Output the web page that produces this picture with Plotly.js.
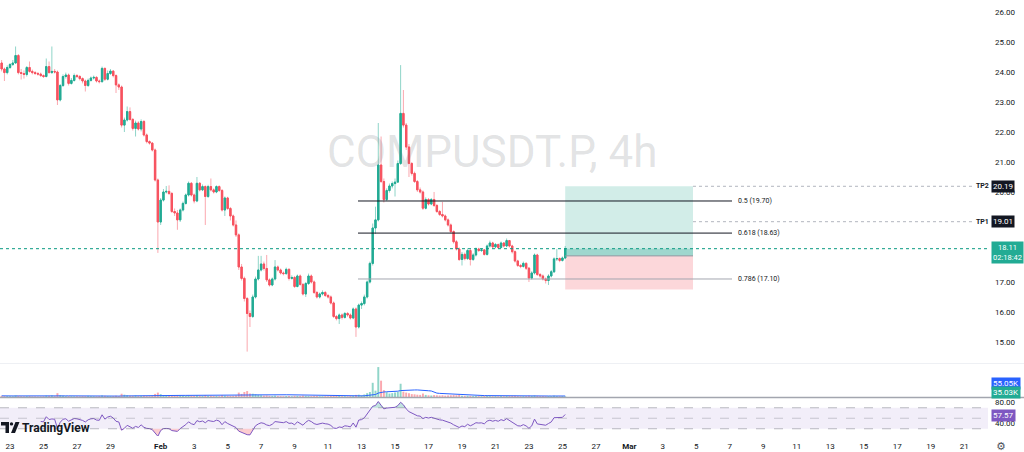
<!DOCTYPE html>
<html><head><meta charset="utf-8">
<script src="https://cdn.plot.ly/plotly-3.0.1.min.js"></script>
<style>html,body{margin:0;padding:0;background:#fff}#chart{width:1024px;height:452px}</style>
</head><body><div id="chart"></div>
<script>
// ---------------- DATA ----------------
const symbolTitle = 'COMPUSDT.P, 4h';
const firstBar = '2025-01-22T12:00:00Z';
const barHours = 4;

const open = [
24.30,24.10,23.98,24.15,24.25,24.30,24.55,23.98,23.95,23.92,
24.15,24.02,23.98,23.95,23.93,23.88,23.85,24.18,23.98,24.02,
24.00,23.07,23.55,23.85,23.90,23.62,23.72,23.88,23.85,23.78,
23.70,23.55,23.72,23.80,23.82,23.70,23.68,24.12,23.76,23.95,
24.03,23.88,23.57,23.50,22.23,22.40,22.68,22.42,22.12,22.30,
22.10,22.35,21.90,21.68,21.63,21.40,20.40,19.00,19.73,20.00,
20.02,19.95,19.35,19.30,19.07,19.40,19.62,19.90,20.29,19.90,
19.70,20.29,20.07,20.18,19.85,20.18,20.07,20.00,20.18,20.05,
19.40,19.80,19.45,19.20,18.90,18.57,17.50,17.12,16.45,15.95,
15.85,16.50,17.10,17.40,17.60,17.45,17.07,16.90,17.10,17.50,
17.40,17.30,17.28,17.42,17.12,17.15,16.85,17.20,16.92,16.60,
16.95,17.20,17.00,16.65,16.50,16.60,16.65,16.55,16.50,16.30,
15.85,15.78,15.90,15.82,15.95,15.90,15.80,16.10,15.50,16.23,
16.28,16.50,17.00,17.62,18.80,19.07,20.90,20.35,19.75,20.05,
20.20,20.28,20.33,20.95,22.62,22.23,21.50,20.95,20.62,20.35,
20.07,20.00,19.46,19.75,19.60,19.75,19.55,19.35,19.25,19.20,
19.07,18.90,18.68,18.34,18.10,17.75,17.92,17.78,18.05,17.75,
17.90,18.10,18.05,18.07,17.92,18.20,18.30,18.17,18.25,18.15,
18.30,18.20,18.38,18.20,18.01,17.70,17.55,17.52,17.62,17.46,
17.13,17.30,17.90,17.25,17.20,17.10,17.05,17.20,17.34,17.77,
17.78,17.72,17.80];

const high = [
24.40,24.15,24.22,24.30,24.40,24.85,24.60,24.10,24.05,24.20,
24.35,24.08,24.03,24.00,23.98,23.92,24.45,24.35,24.85,24.10,
24.05,23.60,23.92,23.98,23.95,23.80,23.95,23.93,23.90,23.82,
23.75,23.78,23.85,23.88,23.86,23.75,24.18,24.15,24.05,24.10,
24.06,23.92,23.62,23.55,22.48,22.85,22.82,22.46,22.38,22.36,
22.42,22.40,21.95,21.72,21.66,21.45,20.45,19.80,20.10,20.20,
20.22,20.00,19.45,19.40,19.45,19.68,19.95,20.35,20.33,19.95,
20.50,20.33,20.25,20.22,20.24,20.45,20.12,20.22,20.22,20.10,
19.85,19.84,19.50,19.25,19.05,18.62,17.60,17.18,16.50,16.05,
16.58,17.18,17.87,17.87,17.68,17.90,17.12,17.15,17.73,17.55,
17.45,17.35,17.48,17.46,17.22,17.20,17.25,17.25,16.96,17.00,
17.28,17.25,17.05,16.70,16.65,16.72,16.70,16.60,16.55,16.35,
15.90,15.95,15.95,16.00,16.00,15.95,16.15,16.15,16.28,16.35,
16.58,17.05,17.68,18.95,19.51,22.30,21.85,20.45,20.12,20.28,
20.35,20.45,21.05,24.23,23.40,22.30,21.60,21.00,20.68,20.40,
20.15,20.05,19.82,19.80,19.80,20.00,19.60,19.40,19.67,19.25,
19.12,18.95,18.72,18.40,18.15,18.00,17.98,18.12,18.10,17.96,
18.15,18.14,18.12,18.10,18.25,18.38,18.34,18.30,18.28,18.35,
18.33,18.45,18.40,18.24,18.05,17.74,17.60,17.68,17.66,17.50,
17.36,17.95,17.94,17.30,17.25,17.15,17.26,17.40,17.82,18.10,
17.82,17.85,18.20];

const low = [
24.02,23.70,23.92,24.10,24.20,24.28,23.92,23.75,23.78,23.85,
23.98,23.92,23.90,23.88,23.84,23.80,23.82,23.95,23.94,23.95,
22.90,23.02,23.50,23.78,23.55,23.58,23.68,23.80,23.72,23.62,
23.35,23.50,23.68,23.75,23.65,23.62,23.64,23.70,23.72,23.90,
23.82,23.30,23.40,22.15,22.00,22.35,22.38,22.05,21.85,22.05,
22.02,21.85,21.62,21.58,21.35,20.35,17.97,18.90,19.68,19.95,
19.90,19.30,19.20,18.74,19.00,19.35,19.58,19.85,19.85,19.62,
19.66,20.02,20.03,18.90,19.80,20.02,19.95,19.96,20.00,19.35,
19.20,19.40,19.05,18.85,18.50,17.40,17.05,16.35,14.68,15.50,
15.80,16.45,17.05,17.35,17.38,17.00,16.85,16.86,17.05,17.35,
17.25,17.22,17.24,17.05,17.08,16.80,16.82,16.88,16.55,16.50,
16.90,16.95,16.60,16.45,16.45,16.55,16.50,16.45,16.25,15.80,
15.72,15.60,15.75,15.78,15.84,15.75,15.76,15.17,15.45,16.10,
16.22,16.45,16.95,17.55,18.60,19.02,20.30,19.65,19.70,19.98,
20.12,19.85,20.30,20.90,22.15,21.40,20.50,20.55,20.30,20.00,
19.95,19.40,19.42,19.55,19.56,19.50,19.30,19.20,19.15,19.02,
18.85,18.62,18.28,18.05,17.70,17.55,17.72,17.74,17.55,17.70,
17.85,18.00,18.00,17.88,17.88,18.15,18.12,18.12,18.10,18.12,
18.15,18.16,18.15,17.95,17.65,17.50,17.46,17.48,17.40,17.00,
17.08,17.25,17.20,17.14,17.05,16.95,16.90,17.15,17.30,17.70,
17.66,17.68,17.76];

const close = [
24.10,23.98,24.15,24.25,24.30,24.55,23.98,23.95,23.92,24.15,
24.02,23.98,23.95,23.93,23.88,23.85,24.18,23.98,24.02,24.00,
23.07,23.55,23.85,23.90,23.62,23.72,23.88,23.85,23.78,23.70,
23.55,23.72,23.80,23.82,23.70,23.68,24.12,23.76,23.95,24.03,
23.88,23.57,23.50,22.23,22.40,22.68,22.42,22.12,22.30,22.10,
22.35,21.90,21.68,21.63,21.40,20.40,19.00,19.73,20.00,20.02,
19.95,19.35,19.30,19.07,19.40,19.62,19.90,20.29,19.90,19.70,
20.29,20.07,20.18,19.85,20.18,20.07,20.00,20.18,20.05,19.40,
19.80,19.45,19.20,18.90,18.57,17.50,17.12,16.45,15.95,15.85,
16.50,17.10,17.40,17.60,17.45,17.07,16.90,17.10,17.50,17.40,
17.30,17.28,17.42,17.12,17.15,16.85,17.20,16.92,16.60,16.95,
17.20,17.00,16.65,16.50,16.60,16.65,16.55,16.50,16.30,15.85,
15.78,15.90,15.82,15.95,15.90,15.80,16.10,15.50,16.23,16.28,
16.50,17.00,17.62,18.80,19.07,20.90,20.35,19.75,20.05,20.20,
20.28,20.33,20.95,22.62,22.23,21.50,20.95,20.62,20.35,20.07,
20.00,19.46,19.75,19.60,19.75,19.55,19.35,19.25,19.20,19.07,
18.90,18.68,18.34,18.10,17.75,17.92,17.78,18.05,17.75,17.90,
18.10,18.05,18.07,17.92,18.20,18.30,18.17,18.25,18.15,18.30,
18.20,18.38,18.20,18.01,17.70,17.55,17.52,17.62,17.46,17.13,
17.30,17.90,17.25,17.20,17.10,17.05,17.20,17.34,17.77,17.78,
17.72,17.80,18.11];

const volumeK = [
60,45,50,40,35,90,70,40,35,45,
50,30,30,25,30,40,70,60,80,45,
200,90,60,45,50,40,35,40,35,45,
40,60,45,40,35,50,80,60,50,40,
45,60,50,170,120,90,70,60,80,55,
60,70,50,45,60,160,230,150,100,70,
60,80,60,90,75,60,65,70,60,55,
80,60,50,90,55,60,50,50,45,90,
70,60,55,60,80,230,160,260,310,180,
170,140,110,90,70,80,60,55,70,50,
45,40,50,55,40,60,55,50,70,60,
50,45,60,50,40,35,40,35,55,90,
60,70,45,40,35,50,60,110,120,90,
130,200,260,740,330,1560,850,360,250,180,
200,230,260,690,280,230,200,150,140,120,
110,180,110,90,80,100,90,80,90,70,
80,90,100,90,110,70,60,65,60,50,
55,45,40,50,55,45,40,45,40,50,
40,55,50,60,70,50,40,45,50,70,
55,80,60,45,50,40,50,45,70,45,
40,45,35];

const tickDates = ['2025-01-23','2025-01-25','2025-01-27','2025-01-29','2025-02-01','2025-02-03','2025-02-05',
  '2025-02-07','2025-02-09','2025-02-11','2025-02-13','2025-02-15','2025-02-17','2025-02-19','2025-02-21',
  '2025-02-23','2025-02-25','2025-02-27','2025-03-01','2025-03-03','2025-03-05','2025-03-07','2025-03-09',
  '2025-03-11','2025-03-13','2025-03-15','2025-03-17','2025-03-19','2025-03-21'];
const tickLabels = ['23','25','27','29','<b>Feb</b>','3','5','7','9','11','13','15','17','19','21',
  '23','25','27','<b>Mar</b>','3','5','7','9','11','13','15','17','19','21'];
const priceTicks = [15,16,17,20,21,22,23,24,25,26];

const fibPrices = [19.70, 18.63, 17.10];
const fibLabels = ['0.5 (19.70)', '0.618 (18.63)', '0.786 (17.10)'];
const tpPrices = [20.19, 19.01];
const tpNames = ['TP2', 'TP1'];
const entryPrice = 17.87, stopPrice = 16.75, lastPrice = 18.11;
const countdown = '02:18:42';
const volMaLabel = '55.05K', volLastLabel = '35.03K', rsiLabel = '57.57';

// ---------------- DERIVED ----------------
const t0 = Date.parse(firstBar);
const fmt = ms => new Date(ms).toISOString().slice(0,16).replace('T',' ');
const times = close.map((_, i) => fmt(t0 + i * barHours * 3600e3));
const up = close.map((c, i) => c >= open[i]);
const bodyHi = close.map((c, i) => Math.max(c, open[i]));
const bodyLo = close.map((c, i) => Math.min(c, open[i]));

// RSI 14 (Wilder)
const rsi = close.map(() => null);
let ag = 0, al = 0;
for (let i = 1; i < close.length; i++) {
  const d = close[i] - close[i-1], g = Math.max(d,0), l = Math.max(-d,0);
  if (i <= 14) { ag += g/14; al += l/14; if (i === 14) rsi[i] = 100 - 100/(1 + ag/(al||1e-9)); }
  else { ag = (ag*13 + g)/14; al = (al*13 + l)/14; rsi[i] = 100 - 100/(1 + ag/(al||1e-9)); }
}
// Volume MA 20
const volMa = volumeK.map((_, i) => { const s = volumeK.slice(Math.max(0, i-19), i+1); return s.reduce((a,b)=>a+b,0)/s.length; });

// ---------------- GEOMETRY HELPERS ----------------
const PW = 988, PH = 436;
const px = v => v / PW, py = v => (PH - v) / PH;
const day0 = Date.parse('2025-01-23T00:00:00Z'), pxPerDay = 16.74;
const xAt = p => fmt(day0 + (p - 10) / pxPerDay * 86400e3);

const GREEN = '#22ab94', RED = '#f7525f';

const traces = [
  { type:'candlestick', x:times, open:open, high:high, low:low, close:close, xaxis:'x', yaxis:'y',
    increasing:{line:{color:'rgba(34,171,148,0.5)', width:1}, fillcolor:'rgba(34,171,148,0.5)'},
    decreasing:{line:{color:'rgba(247,82,95,0.5)', width:1}, fillcolor:'rgba(247,82,95,0.5)'},
    whiskerwidth:0, hoverinfo:'skip' },
  { type:'candlestick', x:times, open:open, high:bodyHi, low:bodyLo, close:close, xaxis:'x', yaxis:'y',
    increasing:{line:{color:GREEN, width:1}, fillcolor:GREEN},
    decreasing:{line:{color:RED, width:1}, fillcolor:RED},
    whiskerwidth:0, hoverinfo:'skip' },
  { type:'bar', x:times, y:volumeK, xaxis:'x', yaxis:'y2',
    marker:{color: up.map(u => u ? 'rgba(34,171,148,0.5)' : 'rgba(247,82,95,0.5)'), line:{width:0}}, hoverinfo:'skip' },
  { type:'scatter', mode:'lines', x:times, y:volMa, xaxis:'x', yaxis:'y2', line:{color:'#2962ff', width:1}, hoverinfo:'skip' },
  { type:'scatter', mode:'lines', x:times, y:rsi.map(v => v==null?null:70), xaxis:'x', yaxis:'y3', line:{width:0}, hoverinfo:'skip' },
  { type:'scatter', mode:'lines', x:times, y:rsi.map(v => v==null?null:Math.max(v,70)), xaxis:'x', yaxis:'y3', line:{width:0},
    fill:'tonexty', fillcolor:'rgba(8,153,129,0.25)', hoverinfo:'skip' },
  { type:'scatter', mode:'lines', x:times, y:rsi.map(v => v==null?null:30), xaxis:'x', yaxis:'y3', line:{width:0}, hoverinfo:'skip' },
  { type:'scatter', mode:'lines', x:times, y:rsi.map(v => v==null?null:Math.min(v,30)), xaxis:'x', yaxis:'y3', line:{width:0},
    fill:'tonexty', fillcolor:'rgba(242,54,69,0.25)', hoverinfo:'skip' },
  { type:'scatter', mode:'lines', x:times, y:rsi, xaxis:'x', yaxis:'y3', line:{color:'#7e57c2', width:1}, hoverinfo:'skip' }
];

const boxX0 = times[times.length-1], boxX1 = xAt(693);
const fibX0 = xAt(358), fibX1 = xAt(732);
const shapes = [
  {type:'rect', xref:'x', yref:'y', x0:boxX0, x1:boxX1, y0:entryPrice, y1:tpPrices[0], fillcolor:'rgba(8,153,129,0.18)', line:{width:0}, layer:'below'},
  {type:'rect', xref:'x', yref:'y', x0:boxX0, x1:boxX1, y0:entryPrice, y1:lastPrice, fillcolor:'rgba(8,153,129,0.25)', line:{width:0}, layer:'below'},
  {type:'rect', xref:'x', yref:'y', x0:boxX0, x1:boxX1, y0:stopPrice, y1:entryPrice, fillcolor:'rgba(242,54,69,0.2)', line:{width:0}, layer:'below'},
  {type:'line', xref:'x', yref:'y', x0:boxX0, x1:boxX1, y0:entryPrice, y1:entryPrice, line:{color:'#9598a1', width:1}},
  {type:'line', xref:'paper', yref:'y', x0:0, x1:1, y0:lastPrice, y1:lastPrice, line:{color:'#089981', width:1, dash:'dot'}},
  // RSI band & levels
  {type:'rect', xref:'paper', yref:'y3', x0:0, x1:1, y0:30, y1:70, fillcolor:'rgba(126,87,194,0.1)', line:{width:0}, layer:'below'},
  {type:'line', xref:'paper', yref:'y3', x0:0, x1:1, y0:70, y1:70, line:{color:'rgba(120,123,134,0.5)', width:1, dash:'dash'}},
  {type:'line', xref:'paper', yref:'y3', x0:0, x1:1, y0:50, y1:50, line:{color:'rgba(120,123,134,0.35)', width:1, dash:'dash'}},
  {type:'line', xref:'paper', yref:'y3', x0:0, x1:1, y0:30, y1:30, line:{color:'rgba(120,123,134,0.5)', width:1, dash:'dash'}},
  // separators
  {type:'line', xref:'paper', yref:'paper', x0:0, x1:px(1024), y0:py(363.5), y1:py(363.5), line:{color:'#eef0f4', width:1}},
  {type:'line', xref:'paper', yref:'paper', x0:0, x1:px(1024), y0:py(397.5), y1:py(397.5), line:{color:'#a3a6af', width:1.5}},
  // TradingView logo
  {type:'path', xref:'paper', yref:'paper', path:`M ${px(1)},${py(422)} L ${px(9)},${py(422)} L ${px(9)},${py(433)} L ${px(5.5)},${py(433)} L ${px(5.5)},${py(425.5)} L ${px(1)},${py(425.5)} Z`, fillcolor:'#131722', line:{width:0}},
  {type:'circle', xref:'paper', yref:'paper', x0:px(9.8), x1:px(13.2), y0:py(425.6), y1:py(422.2), fillcolor:'#131722', line:{width:0}},
  {type:'path', xref:'paper', yref:'paper', path:`M ${px(11)},${py(433)} L ${px(15.5)},${py(422)} L ${px(19.5)},${py(422)} L ${px(15)},${py(433)} Z`, fillcolor:'#131722', line:{width:0}}
];
fibPrices.forEach((p, k) => shapes.push({type:'line', xref:'x', yref:'y', x0:fibX0, x1:fibX1, y0:p, y1:p,
  line:{color: k === 2 ? '#a3a6af' : '#131722', width:1}}));
tpPrices.forEach(p => shapes.push({type:'line', xref:'x', yref:'y', x0:boxX1, x1:xAt(972), y0:p, y1:p,
  line:{color:'#b2b5be', width:1, dash:'dot'}}));

const badge = (text, y, yref, bg, extra) => Object.assign({text, x:px(991), xref:'paper', xanchor:'left', y, yref, yanchor:'middle',
  showarrow:false, bgcolor:bg, borderpad:1, font:{family:'Roboto', size:8, color:'#ffffff'}, align:'center'}, extra||{});

const annotations = [
  {text:symbolTitle, x:px(492), xref:'paper', y:py(152), yref:'paper', yanchor:'middle', showarrow:false,
   font:{family:'Roboto', size:44, color:'rgba(110,112,120,0.2)'}},
  {text:'<b>TradingView</b>', x:px(20), xref:'paper', xanchor:'left', y:py(427.5), yref:'paper', yanchor:'middle', showarrow:false,
   font:{family:'Roboto', size:12, color:'#131722'}},
  {text:'⚙', x:px(1008), xref:'paper', y:py(446), yref:'paper', yanchor:'middle', showarrow:false, font:{family:'DejaVu Sans', size:11, color:'#50535e'}},
  badge(tpPrices[0].toFixed(2), tpPrices[0], 'y', '#131722'),
  badge(tpPrices[1].toFixed(2), tpPrices[1], 'y', '#131722'),
  badge(lastPrice.toFixed(2) + '<br>' + countdown, lastPrice, 'y', '#22ab94', {yshift:-4, font:{family:'Roboto', size:7.5, color:'#fff'}}),
  badge(volMaLabel, py(383), 'paper', '#2962ff'),
  badge(volLastLabel, py(392.5), 'paper', '#22ab94'),
  badge(rsiLabel, py(415), 'paper', '#7e57c2')
];
fibLabels.forEach((t, k) => annotations.push({text:t, x:fibX1, xref:'x', xanchor:'left', xshift:4, y:fibPrices[k], yref:'y',
  showarrow:false, font:{family:'Roboto', size:7, color:'#131722'}}));
tpNames.forEach((t, k) => annotations.push({text:'<b>'+t+'</b>', x:px(974), xref:'paper', xanchor:'left', y:tpPrices[k], yref:'y',
  showarrow:false, font:{family:'Roboto', size:7, color:'#131722'}}));

const layout = {
  width:1024, height:452, margin:{l:0, r:36, t:0, b:16},
  paper_bgcolor:'#ffffff', plot_bgcolor:'#ffffff', showlegend:false, hovermode:false, bargap:0.3,
  font:{family:'Roboto', size:8, color:'#131722'},
  xaxis:{type:'date', anchor:'y3', range:[xAt(0), xAt(988)], rangeslider:{visible:false},
    tickvals:tickDates, ticktext:tickLabels, showgrid:false, zeroline:false, showline:false, ticks:'', ticklabelstandoff:4,
    tickfont:{family:'Roboto', size:8, color:'#131722'}},
  yaxis:{domain:[py(362), 1], range:[14.333, 26.4], side:'right', tickvals:priceTicks,
    ticktext:priceTicks.map(v => v.toFixed(2)), showgrid:false, zeroline:false, ticks:'', ticklabelstandoff:6,
    tickfont:{family:'Roboto', size:8, color:'#131722'}},
  yaxis2:{domain:[py(397), py(364)], range:[0, 1720], showticklabels:false, showgrid:false, zeroline:false, ticks:''},
  yaxis3:{domain:[0, py(399)], range:[16.2, 86.7], side:'right', tickvals:[40, 80], ticktext:['40.00','80.00'],
    showgrid:false, zeroline:false, ticks:'', ticklabelstandoff:6, tickfont:{family:'Roboto', size:8, color:'#131722'}},
  shapes, annotations
};
Plotly.newPlot('chart', traces, layout, {staticPlot:true, displayModeBar:false});
</script></body></html>
